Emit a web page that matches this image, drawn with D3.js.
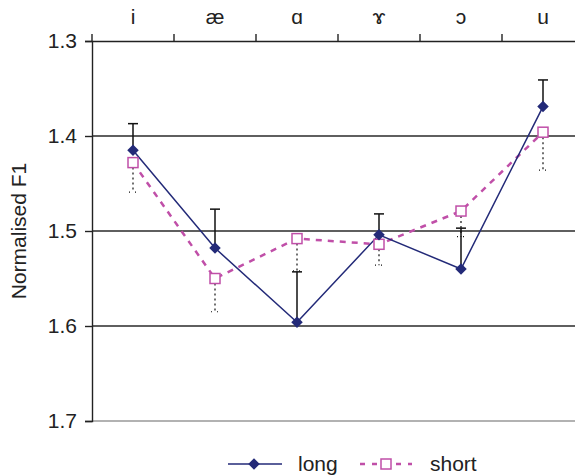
<!DOCTYPE html>
<html lang="en">
<head>
<meta charset="utf-8" />
<title>Normalised F1</title>
<style>
  body { margin: 0; background: #fff; }
  svg { font-family: "Liberation Sans", Arial, sans-serif; }
</style>
</head>
<body>
<svg width="575" height="475"></svg>
<script src="https://d3js.org/d3.v7.min.js"></script>
<script>
  const vowels = ["i", "æ", "ɑ", "ɤ", "ɔ", "u"];
  const longMean = [1.415, 1.518, 1.596, 1.504, 1.540, 1.369];
  const longErrTop = [1.387, 1.477, 1.543, 1.482, 1.497, 1.341];
  const shortMean = [1.428, 1.550, 1.508, 1.514, 1.479, 1.396];
  const shortErrBottom = [1.459, 1.585, 1.542, 1.536, 1.506, 1.436];
  const yTicks = [1.3, 1.4, 1.5, 1.6, 1.7];

  const svg = d3.select("svg");
  const plotL = 92, plotR = 584, plotT = 41, plotB = 421;
  const fs = 21;

  const x = d3.scaleBand().domain(vowels).range([plotL, plotR]);
  const y = d3.scaleLinear().domain([1.3, 1.7]).range([plotT, plotB]);
  const cx = d => x(d) + x.bandwidth() / 2;

  // gridlines
  svg.append("g").selectAll("line")
    .data([1.4, 1.5, 1.6]).join("line")
    .attr("x1", plotL).attr("x2", 575)
    .attr("y1", d => y(d)).attr("y2", d => y(d))
    .attr("stroke", "#2a2a2a").attr("stroke-width", 1.4);

  // bottom border
  svg.append("line")
    .attr("x1", plotL).attr("x2", 575)
    .attr("y1", y(1.7)).attr("y2", y(1.7))
    .attr("stroke", "#999").attr("stroke-width", 1.5);

  // top axis
  const xAxis = svg.append("g")
    .attr("transform", `translate(0,${plotT})`)
    .call(d3.axisTop(x).tickSize(0).tickPadding(17));
  xAxis.select(".domain").attr("stroke", "#222").attr("stroke-width", 1.4);
  xAxis.selectAll("text").style("font-size", fs + "px").attr("fill", "#222");
  xAxis.selectAll(".bound").data(vowels).join("line")
    .attr("x1", d => x(d)).attr("x2", d => x(d))
    .attr("y1", 0).attr("y2", -7)
    .attr("stroke", "#222").attr("stroke-width", 1.4);

  // left axis
  const yAxis = svg.append("g")
    .attr("transform", `translate(${plotL},0)`)
    .call(d3.axisLeft(y).tickValues(yTicks).tickFormat(d3.format(".1f")).tickSize(7).tickPadding(8));
  yAxis.select(".domain").attr("stroke", "#222").attr("stroke-width", 1.4);
  yAxis.selectAll(".tick line").attr("stroke", "#222").attr("stroke-width", 1.4);
  yAxis.selectAll("text").style("font-size", fs + "px").attr("fill", "#222");

  svg.append("text")
    .attr("transform", `translate(26,${(plotT + plotB) / 2}) rotate(-90)`)
    .attr("text-anchor", "middle")
    .style("font-size", fs + "px").attr("fill", "#222")
    .text("Normalised F1");

  const longCol = "#232a78", shortCol = "#c04fa8";

  // error bars
  const eb = svg.append("g");
  vowels.forEach((v, i) => {
    eb.append("line")
      .attr("x1", cx(v)).attr("x2", cx(v))
      .attr("y1", y(longMean[i])).attr("y2", y(longErrTop[i]))
      .attr("stroke", "#111").attr("stroke-width", 1.5);
    eb.append("line")
      .attr("x1", cx(v) - 5).attr("x2", cx(v) + 5)
      .attr("y1", y(longErrTop[i])).attr("y2", y(longErrTop[i]))
      .attr("stroke", "#111").attr("stroke-width", 1.5);
    eb.append("line")
      .attr("x1", cx(v)).attr("x2", cx(v))
      .attr("y1", y(shortMean[i])).attr("y2", y(shortErrBottom[i]))
      .attr("stroke", "#111").attr("stroke-width", 1.2).attr("stroke-dasharray", "2,3");
    eb.append("line")
      .attr("x1", cx(v) - 4).attr("x2", cx(v) + 4)
      .attr("y1", y(shortErrBottom[i])).attr("y2", y(shortErrBottom[i]))
      .attr("stroke", "#111").attr("stroke-width", 1.2).attr("stroke-dasharray", "1,5");
  });

  const line = d3.line().x((d, i) => cx(vowels[i])).y(d => y(d));

  svg.append("path").datum(shortMean)
    .attr("d", line).attr("fill", "none")
    .attr("stroke", shortCol).attr("stroke-width", 2.5).attr("stroke-dasharray", "6,6");

  svg.append("path").datum(longMean)
    .attr("d", line).attr("fill", "none")
    .attr("stroke", longCol).attr("stroke-width", 1.5);

  const diamond = d3.symbol().type(d3.symbolDiamond2).size(85);

  svg.append("g").selectAll("rect").data(shortMean).join("rect")
    .attr("x", (d, i) => cx(vowels[i]) - 5).attr("y", d => y(d) - 5)
    .attr("width", 10).attr("height", 10)
    .attr("fill", "#fff").attr("stroke", shortCol).attr("stroke-width", 1.5);

  svg.append("g").selectAll("path").data(longMean).join("path")
    .attr("d", diamond)
    .attr("transform", (d, i) => `translate(${cx(vowels[i])},${y(d)})`)
    .attr("fill", longCol);

  // legend
  const lg = svg.append("g").attr("transform", "translate(0,464)");
  lg.append("line").attr("x1", 228).attr("x2", 282).attr("stroke", longCol).attr("stroke-width", 1.5);
  lg.append("path").attr("d", diamond).attr("transform", "translate(254,0)").attr("fill", longCol);
  lg.append("text").attr("x", 298).attr("y", 7).style("font-size", fs + "px").attr("fill", "#222").text("long");
  lg.append("line").attr("x1", 360).attr("x2", 412).attr("stroke", shortCol)
    .attr("stroke-width", 2.5).attr("stroke-dasharray", "5,7");
  lg.append("rect").attr("x", 381).attr("y", -5).attr("width", 10).attr("height", 10)
    .attr("fill", "#fff").attr("stroke", shortCol).attr("stroke-width", 1.5);
  lg.append("text").attr("x", 430).attr("y", 7).style("font-size", fs + "px").attr("fill", "#222").text("short");
</script>
</body>
</html>
